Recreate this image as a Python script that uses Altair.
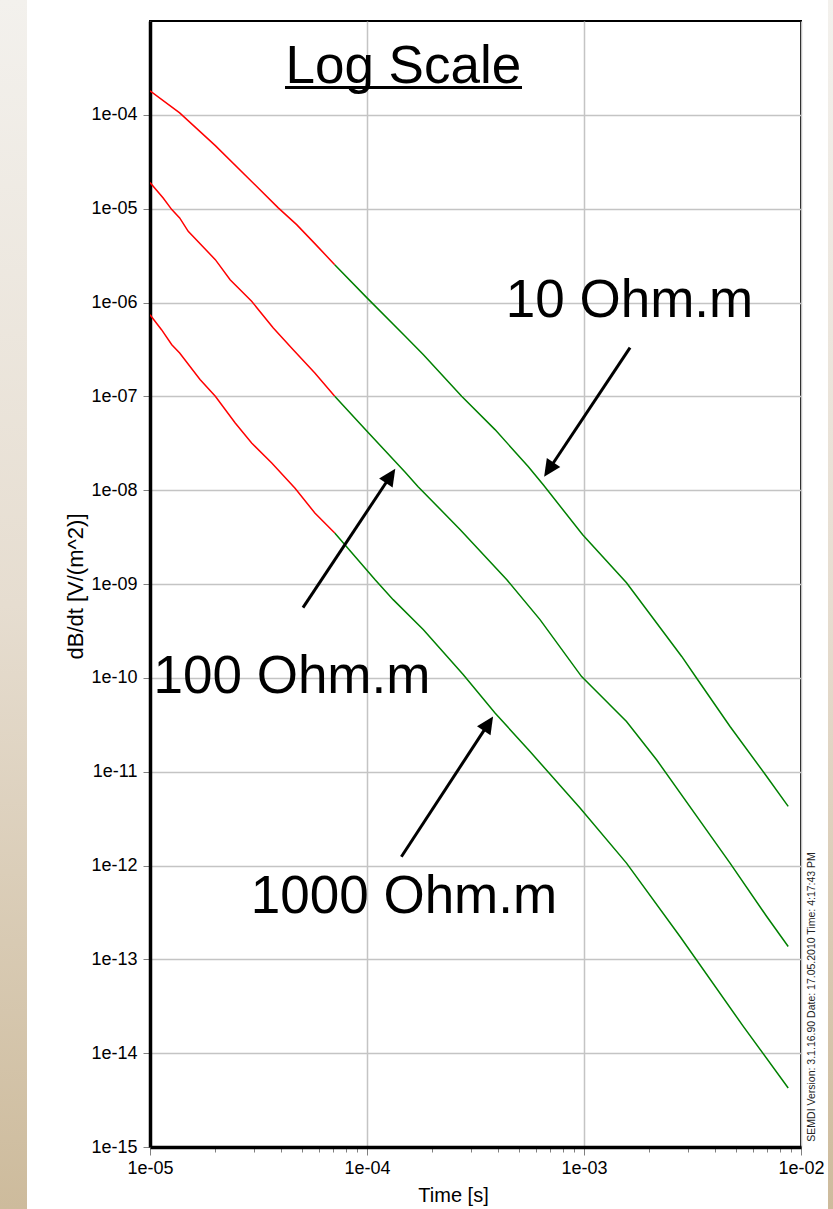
import math

import altair as alt
import pandas as pd

# dB/dt decay curves (time in s, response in V/(m^2)) for three half-space resistivities
SERIES = ["10 Ohm.m", "100 Ohm.m", "1000 Ohm.m"]

T_10 = [1.0e-5, 1.37e-5, 2.0e-5, 2.94e-5, 3.9e-5, 4.74e-5, 5.75e-5, 7.1e-5, 1.0e-4,
        1.5e-4, 1.82e-4, 2.73e-4, 3.89e-4, 5.53e-4, 6.49e-4, 9.86e-4, 1.57e-3,
        2.82e-3, 3.3e-3, 4.71e-3, 6.95e-3, 8.73e-3]
V_10 = [1.8e-4, 1.05e-4, 4.7e-5, 1.95e-5, 1.02e-5, 6.76e-6, 4.24e-6, 2.53e-6, 1.12e-6,
        4.36e-7, 2.78e-7, 1.0e-7, 4.42e-8, 1.79e-8, 1.14e-8, 3.35e-9, 1.03e-9,
        1.69e-10, 9.95e-11, 3.03e-11, 8.89e-12, 4.27e-12]

T_100 = [1.0e-5, 1.15e-5, 1.26e-5, 1.37e-5, 1.5e-5, 2.0e-5, 2.34e-5, 2.94e-5, 3.7e-5,
         4.57e-5, 5.75e-5, 7.1e-5, 1.0e-4, 1.5e-4, 1.72e-4, 2.69e-4, 4.41e-4, 6.27e-4,
         9.75e-4, 1.57e-3, 2.16e-3, 4.71e-3, 6.95e-3, 8.73e-3]
V_100 = [1.9e-5, 1.3e-5, 9.77e-6, 7.96e-6, 5.73e-6, 2.86e-6, 1.75e-6, 1.03e-6, 5.36e-7,
         3.14e-7, 1.77e-7, 1.0e-7, 4.24e-8, 1.55e-8, 1.09e-8, 3.79e-9, 1.11e-9, 4.17e-10,
         1.03e-10, 3.43e-11, 1.34e-11, 1.06e-12, 2.86e-13, 1.37e-13]

T_1000 = [1.0e-5, 1.13e-5, 1.26e-5, 1.37e-5, 1.7e-5, 2.0e-5, 2.47e-5, 2.94e-5, 3.64e-5,
          4.66e-5, 5.75e-5, 7.1e-5, 1.09e-4, 1.32e-4, 1.82e-4, 2.78e-4, 3.89e-4,
          5.64e-4, 9.59e-4, 1.57e-3, 2.77e-3, 5.42e-3, 8.73e-3]
V_1000 = [7.4e-7, 5.13e-7, 3.55e-7, 2.9e-7, 1.51e-7, 1.0e-7, 5.2e-8, 3.18e-8, 1.95e-8,
          1.05e-8, 5.71e-9, 3.5e-9, 1.11e-9, 6.81e-10, 3.26e-10, 1.08e-10, 4.22e-11,
          1.64e-11, 4.09e-12, 1.06e-12, 1.75e-13, 1.93e-14, 4.25e-15]

# early-time part of every curve is drawn red, late-time part green
SWITCH_T = 7.1e-5
PHASES = ["early", "late"]
PHASE_COLORS = ["#ff0000", "#008000"]

# axes
X_DOMAIN = [1e-5, 1e-2]
Y_DOMAIN = [1e-15, 1e-3]
X_DECADES = [-5, -4, -3]
Y_TICKS = [1e-4, 1e-5, 1e-6, 1e-7, 1e-8, 1e-9, 1e-10, 1e-11, 1e-12, 1e-13, 1e-14, 1e-15]
X_TITLE = "Time [s]"
Y_TITLE = "dB/dt [V/(m^2)]"

# annotations
HEADING = "Log Scale"
HEADING_T, HEADING_V = 1.47e-4, 2.2e-4
UNDERLINE_T = [4.19e-5, 5.18e-4]
UNDERLINE_V = 1.95e-4

LABELS = ["10 Ohm.m", "100 Ohm.m", "1000 Ohm.m"]
LABEL_T = [1.62e-3, 4.51e-5, 1.48e-4]
LABEL_V = [7.06e-7, 6.94e-11, 3.13e-13]

ARROW_TAIL_T = [1.63e-3, 5.07e-5, 1.44e-4]
ARROW_TAIL_V = [3.30e-7, 5.59e-10, 1.24e-12]
ARROW_TIP_T = [6.55e-4, 1.35e-4, 3.81e-4]
ARROW_TIP_V = [1.39e-8, 1.69e-8, 3.87e-11]

STAMP = "SEMDI Version: 3.1.16.90 Date: 17.05.2010 Time: 4:17:43 PM"
STAMP_T, STAMP_V = 1.12e-2, 1.14e-15

FONT = "Liberation Sans"
W, H = 651, 1126
PAD = {"left": 150, "top": 21, "right": 32, "bottom": 62}

# ---------------------------------------------------------------------------
rows = []
for name, ts, vs in zip(SERIES, [T_10, T_100, T_1000], [V_10, V_100, V_1000]):
    for t, v in zip(ts, vs):
        if t <= SWITCH_T:
            rows.append({"series": name, "phase": "early", "t": t, "v": v})
        if t >= SWITCH_T:
            rows.append({"series": name, "phase": "late", "t": t, "v": v})
curves = pd.DataFrame(rows)

# arrow geometry: shaft ends a little inside the head, head rotated along the shaft
kx = W / (math.log10(X_DOMAIN[1]) - math.log10(X_DOMAIN[0]))
ky = H / (math.log10(Y_DOMAIN[1]) - math.log10(Y_DOMAIN[0]))
arrow_rows = []
for tt, tv, pt, pv in zip(ARROW_TAIL_T, ARROW_TAIL_V, ARROW_TIP_T, ARROW_TIP_V):
    dx = (math.log10(pt) - math.log10(tt)) * kx
    dy = -(math.log10(pv) - math.log10(tv)) * ky
    length = math.hypot(dx, dy)
    ux, uy = dx / length, dy / length
    back = 12
    end_t = 10 ** (math.log10(pt) - back * ux / kx)
    end_v = 10 ** (math.log10(pv) + back * uy / ky)
    angle = math.degrees(math.atan2(ux, -uy)) % 360
    arrow_rows.append({"t0": tt, "v0": tv, "t1": end_t, "v1": end_v,
                       "tip_t": pt, "tip_v": pv, "angle": angle})
arrows = pd.DataFrame(arrow_rows)

x_scale = alt.Scale(type="log", domain=X_DOMAIN, nice=False)
y_scale = alt.Scale(type="log", domain=Y_DOMAIN, nice=False)

DECADE = "abs(log(datum.value)/LN10 - round(log(datum.value)/LN10)) < 0.001"
x_ticks = [m * 10.0 ** e for e in X_DECADES for m in range(1, 10)] + [X_DOMAIN[1]]

x_axis = alt.Axis(
    values=x_ticks,
    labelExpr=f"{DECADE} ? '1e-0' + round(-log(datum.value)/LN10) : ''",
    labelOverlap=False, labelFlush=False,
    labelFont=FONT, labelFontSize=18, labelColor="black", labelPadding=4,
    tickColor="#808080", tickWidth=1,
    tickSize={"condition": {"test": DECADE, "value": 8}, "value": 5},
    grid=True, gridColor="#c4c4c4", gridWidth=1.5,
    gridOpacity={"condition": {"test": DECADE, "value": 1}, "value": 0},
    domainColor="black", domainWidth=3.5,
    titleFont=FONT, titleFontSize=20, titleFontWeight="normal", titleColor="black",
    titleX=303, titleY=48, titleAlign="center", titleBaseline="middle",
)
y_axis = alt.Axis(
    values=Y_TICKS,
    labelExpr="'1e-' + (round(-log(datum.value)/LN10) < 10 ? '0' : '') + round(-log(datum.value)/LN10)",
    labelOverlap=False, labelFlush=False,
    labelFont=FONT, labelFontSize=18, labelColor="black", labelPadding=6,
    tickColor="#808080", tickWidth=1, tickSize=7,
    grid=True, gridColor="#c4c4c4", gridWidth=1.5,
    domainColor="black", domainWidth=3.5,
    titleFont=FONT, titleFontSize=22, titleFontWeight="normal", titleColor="black",
    titleX=-75, titleY=565, titleAngle=270, titleAlign="center", titleBaseline="middle",
)

lines = alt.Chart(curves).mark_line(strokeWidth=1.5, clip=True).encode(
    x=alt.X("t:Q", scale=x_scale, axis=x_axis, title=X_TITLE),
    y=alt.Y("v:Q", scale=y_scale, axis=y_axis, title=Y_TITLE),
    color=alt.Color("phase:N", scale=alt.Scale(domain=PHASES, range=PHASE_COLORS), legend=None),
    detail="series:N",
    order="t:Q",
)

heading = alt.Chart(pd.DataFrame({"text": [HEADING], "t": [HEADING_T], "v": [HEADING_V]})).mark_text(
    font=FONT, fontSize=53, color="black", align="center", baseline="alphabetic"
).encode(x=alt.X("t:Q", scale=x_scale), y=alt.Y("v:Q", scale=y_scale), text="text:N")

underline = alt.Chart(pd.DataFrame({"t0": [UNDERLINE_T[0]], "t1": [UNDERLINE_T[1]], "v": [UNDERLINE_V]})).mark_rule(
    color="black", strokeWidth=3
).encode(x=alt.X("t0:Q", scale=x_scale), x2="t1:Q", y=alt.Y("v:Q", scale=y_scale))

labels = alt.Chart(pd.DataFrame({"text": LABELS, "t": LABEL_T, "v": LABEL_V})).mark_text(
    font=FONT, fontSize=53, color="black", align="center", baseline="alphabetic"
).encode(x=alt.X("t:Q", scale=x_scale), y=alt.Y("v:Q", scale=y_scale), text="text:N")

shafts = alt.Chart(arrows).mark_rule(color="black", strokeWidth=3).encode(
    x=alt.X("t0:Q", scale=x_scale), y=alt.Y("v0:Q", scale=y_scale), x2="t1:Q", y2="v1:Q"
)
heads = alt.Chart(arrows).mark_point(
    shape="M0,0L-0.95,2L0.95,2Z", filled=True, size=289, color="black", opacity=1
).encode(x=alt.X("tip_t:Q", scale=x_scale), y=alt.Y("tip_v:Q", scale=y_scale), angle=alt.Angle("angle:Q", scale=None))

stamp = alt.Chart(pd.DataFrame({"text": [STAMP], "t": [STAMP_T], "v": [STAMP_V]})).mark_text(
    font=FONT, fontSize=10.5, color="#222222", align="left", baseline="middle", angle=270
).encode(x=alt.X("t:Q", scale=x_scale), y=alt.Y("v:Q", scale=y_scale), text="text:N")

# tinted page edges
edge_fill = alt.Gradient(
    gradient="linear", x1=0, x2=0, y1=0, y2=1,
    stops=[alt.GradientStop(color="#f3f1ed", offset=0),
           alt.GradientStop(color="#e6ddd0", offset=0.5),
           alt.GradientStop(color="#cdbb9c", offset=1)],
)
one = pd.DataFrame({"k": [0]})
left_edge = alt.Chart(one).mark_rect(fill=edge_fill).encode(
    x=alt.value(-PAD["left"]), x2=alt.value(-PAD["left"] + 27),
    y=alt.value(-PAD["top"]), y2=alt.value(H + PAD["bottom"]),
)
right_edge = alt.Chart(one).mark_rect(fill=edge_fill).encode(
    x=alt.value(W + PAD["right"] - 5), x2=alt.value(W + PAD["right"]),
    y=alt.value(-PAD["top"]), y2=alt.value(H + PAD["bottom"]),
)

chart = alt.layer(
    left_edge, right_edge, lines, underline, heading, labels, shafts, heads, stamp
).properties(
    width=W, height=H,
    autosize=alt.AutoSizeParams(type="none"),
    padding=PAD,
    background="white",
).configure_view(stroke="black", strokeWidth=2)

chart.save("out.html", embed_options={"renderer": "svg", "actions": False})
